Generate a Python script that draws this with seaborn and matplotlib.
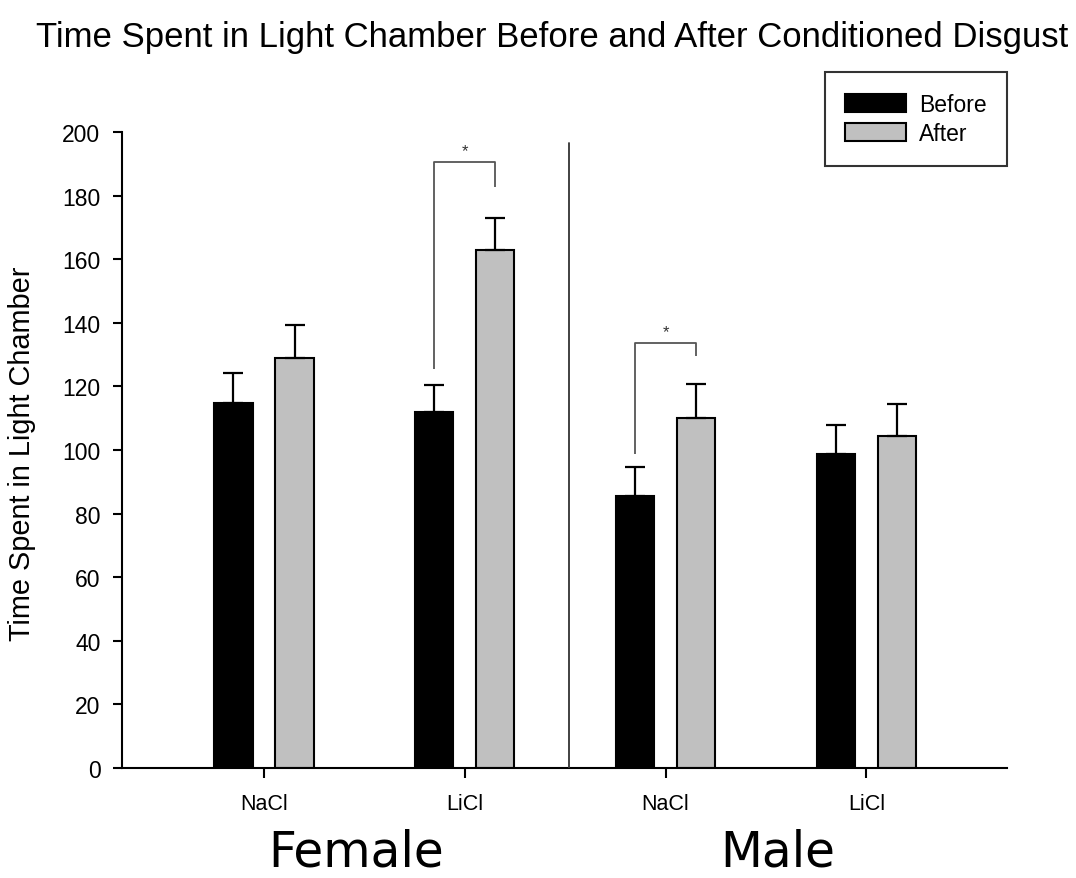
import matplotlib
matplotlib.use("Agg")
import matplotlib.pyplot as plt
import matplotlib.transforms as mtransforms
import seaborn as sns
import pandas as pd

# ---------------- data ----------------
sexes = ["Female", "Female", "Male", "Male"]
treatments = ["NaCl", "LiCl", "NaCl", "LiCl"]
phases = ["Before", "After"]
before_mean = [114.8, 111.8, 85.4, 98.8]
after_mean = [128.9, 162.9, 110.1, 104.4]
before_sem = [9.3, 8.7, 9.4, 9.0]
after_sem = [10.5, 10.1, 10.6, 10.2]
tick_labels = ["NaCl", "LiCl", "NaCl", "LiCl"]
group_labels = ["Female", "Male"]

# significance brackets: category index, left leg bottom, bracket top, right leg bottom
bracket_cat = [1, 2]
bracket_left_low = [125.6, 98.7]
bracket_top = [190.7, 133.6]
bracket_right_low = [182.6, 129.6]
bracket_text = ["*", "*"]

y_ticks = [0, 20, 40, 60, 80, 100, 120, 140, 160, 180, 200]

# ---------------- build table ----------------
cats = [f"{s} {t}" for s, t in zip(sexes, treatments)]
rows = []
for i, c in enumerate(cats):
    rows.append({"group": c, "phase": "Before", "value": before_mean[i], "sem": before_sem[i]})
    rows.append({"group": c, "phase": "After", "value": after_mean[i], "sem": after_sem[i]})
df = pd.DataFrame(rows)

sns.set_style("white")
plt.rcParams["font.family"] = ["Liberation Sans", "DejaVu Sans"]
plt.rcParams["text.color"] = "black"
plt.rcParams["xtick.color"] = "black"
plt.rcParams["ytick.color"] = "black"
plt.rcParams["axes.labelcolor"] = "black"

fig = plt.figure(figsize=(10.76, 8.79), dpi=100)
ax = fig.add_axes([122 / 1076, 1 - 769 / 879, (1007 - 122) / 1076, (769 - 133) / 879])

sns.barplot(data=df, x="group", y="value", hue="phase", order=cats, hue_order=phases,
            palette={"Before": "#000000", "After": "#c0c0c0"}, errorbar=None,
            width=0.608, gap=0.375, edgecolor="black", linewidth=1.5, saturation=1,
            ax=ax, legend=True)

# error bars (upward only) on top of each bar
sem_by_phase = {"Before": before_sem, "After": after_sem}
centers = {}
for cont, ph in zip(ax.containers, phases):
    for i, bar in enumerate(cont):
        xc = bar.get_x() + bar.get_width() / 2
        h = bar.get_height()
        centers[(i, ph)] = xc
        ax.errorbar([xc], [h], yerr=[[0], [sem_by_phase[ph][i]]], fmt="none",
                    ecolor="black", elinewidth=1.6, capsize=7, capthick=1.6, zorder=3)

# brackets
for k, ci in enumerate(bracket_cat):
    xl = centers[(ci, "Before")]
    xr = centers[(ci, "After")]
    ax.plot([xl, xl, xr, xr],
            [bracket_left_low[k], bracket_top[k], bracket_top[k], bracket_right_low[k]],
            color="#555555", lw=1.3, solid_capstyle="butt", zorder=3)
    ax.text((xl + xr) / 2, bracket_top[k] + 1.2, bracket_text[k], ha="center", va="bottom",
            fontsize=12, color="#333333")

# divider line between sexes
ax.plot([1.52, 1.52], [0, 196.5], color="#333333", lw=1.3, zorder=3)

ax.set_xlim(-0.707, 3.70)
ax.set_ylim(0, 200)
ax.set_yticks(y_ticks)
ax.set_xticks(range(len(cats)))
ax.set_xticklabels(tick_labels, fontsize=15.5)
ax.tick_params(axis="y", labelsize=16.5, length=6.5, width=1.5, direction="out", pad=9,
               left=True, colors="black")
ax.tick_params(axis="x", length=7, width=1.5, direction="out", pad=11, bottom=True, colors="black")
ax.set_xlabel("")
ax.set_ylabel("")
sns.despine(ax=ax)
for sp in ["left", "bottom"]:
    ax.spines[sp].set_linewidth(1.5)
    ax.spines[sp].set_color("black")

# group labels
trans = mtransforms.blended_transform_factory(ax.transData, ax.transAxes)
for gx, lab in zip([0.458, 2.56], group_labels):
    ax.text(gx, -0.154, lab, transform=trans, ha="center", va="baseline",
            fontsize=35, family="DejaVu Sans", color="black")

# titles
fig.text(552 / 1076, 1 - 47 / 879, "Time Spent in Light Chamber Before and After Conditioned Disgust",
         ha="center", va="baseline", fontsize=25, color="black")
fig.text(22 / 1076, 1 - 454 / 879, "Time Spent in Light Chamber", rotation=90,
         ha="center", va="center", fontsize=20.8, color="black")

# legend
handles, labels = ax.get_legend_handles_labels()
ax.get_legend().remove()
leg = fig.legend(handles, labels, loc="upper right",
                 bbox_to_anchor=(1007 / 1076, 1 - 73 / 879), bbox_transform=fig.transFigure,
                 fontsize=16.5, frameon=True, fancybox=False, borderaxespad=0,
                 handlelength=2.65, handleheight=0.85, labelspacing=0.28,
                 handletextpad=0.55, borderpad=0.9)
leg.get_frame().set_edgecolor("black")
leg.get_frame().set_linewidth(1.5)
for t in leg.get_texts():
    t.set_color("black")

fig.savefig("out.png", dpi=100)
